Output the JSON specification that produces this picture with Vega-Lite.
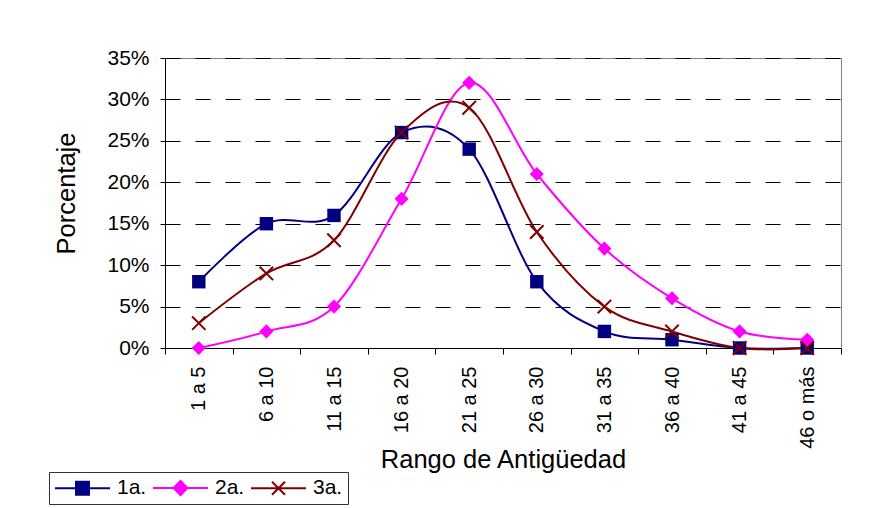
{
  "$schema": "https://vega.github.io/schema/vega-lite/v6.json",
  "autosize": {"type": "none"},
  "padding": {"left": 165, "top": 58, "right": 46, "bottom": 160},
  "width": 676,
  "height": 290,
  "background": "white",
  "config": {
    "font": "Liberation Sans",
    "view": {"stroke": "#808080", "strokeWidth": 1},
    "axis": {"labelColor": "black", "titleColor": "black", "domainColor": "black", "tickColor": "black", "labelFont": "Liberation Sans", "titleFont": "Liberation Sans", "titleFontWeight": "normal"}
  },
  "data": {"values": [
    {"rango": "1 a 5", "serie": "1a.", "valor": 0.08},
    {"rango": "6 a 10", "serie": "1a.", "valor": 0.15},
    {"rango": "11 a 15", "serie": "1a.", "valor": 0.16},
    {"rango": "16 a 20", "serie": "1a.", "valor": 0.26},
    {"rango": "21 a 25", "serie": "1a.", "valor": 0.24},
    {"rango": "26 a 30", "serie": "1a.", "valor": 0.08},
    {"rango": "31 a 35", "serie": "1a.", "valor": 0.02},
    {"rango": "36 a 40", "serie": "1a.", "valor": 0.01},
    {"rango": "41 a 45", "serie": "1a.", "valor": 0.0},
    {"rango": "46 o más", "serie": "1a.", "valor": 0.0},
    {"rango": "1 a 5", "serie": "2a.", "valor": 0.0},
    {"rango": "6 a 10", "serie": "2a.", "valor": 0.02},
    {"rango": "11 a 15", "serie": "2a.", "valor": 0.05},
    {"rango": "16 a 20", "serie": "2a.", "valor": 0.18},
    {"rango": "21 a 25", "serie": "2a.", "valor": 0.32},
    {"rango": "26 a 30", "serie": "2a.", "valor": 0.21},
    {"rango": "31 a 35", "serie": "2a.", "valor": 0.12},
    {"rango": "36 a 40", "serie": "2a.", "valor": 0.06},
    {"rango": "41 a 45", "serie": "2a.", "valor": 0.02},
    {"rango": "46 o más", "serie": "2a.", "valor": 0.01},
    {"rango": "1 a 5", "serie": "3a.", "valor": 0.03},
    {"rango": "6 a 10", "serie": "3a.", "valor": 0.09},
    {"rango": "11 a 15", "serie": "3a.", "valor": 0.13},
    {"rango": "16 a 20", "serie": "3a.", "valor": 0.26},
    {"rango": "21 a 25", "serie": "3a.", "valor": 0.29},
    {"rango": "26 a 30", "serie": "3a.", "valor": 0.14},
    {"rango": "31 a 35", "serie": "3a.", "valor": 0.05},
    {"rango": "36 a 40", "serie": "3a.", "valor": 0.02},
    {"rango": "41 a 45", "serie": "3a.", "valor": 0.0},
    {"rango": "46 o más", "serie": "3a.", "valor": 0.0}
  ]},
  "encoding": {
    "x": {
      "field": "rango", "type": "nominal",
      "sort": ["1 a 5", "6 a 10", "11 a 15", "16 a 20", "21 a 25", "26 a 30", "31 a 35", "36 a 40", "41 a 45", "46 o más"],
      "scale": {"type": "band", "paddingInner": 0, "paddingOuter": 0},
      "bandPosition": 0.5,
      "axis": {
        "title": "Rango de Antigüedad", "titleFontSize": 25.5, "titleBaseline": "alphabetic", "titleY": 119,
        "labelAngle": -90, "labelAlign": "right", "labelBaseline": "middle", "labelFontSize": 20,
        "labelPadding": 12, "tickSize": 6, "tickBand": "extent", "grid": false, "labelOverlap": false
      }
    },
    "y": {
      "field": "valor", "type": "quantitative",
      "scale": {"domain": [0, 0.35], "nice": false, "zero": true},
      "axis": {
        "title": "Porcentaje", "titleFontSize": 25.5, "titleBaseline": "alphabetic", "titleX": -91, "titleY": 135, "titleAngle": -90,
        "values": [0, 0.05, 0.1, 0.15, 0.2, 0.25, 0.3, 0.35], "format": ".0%",
        "labelFontSize": 21, "labelPadding": 11, "tickSize": 5,
        "grid": true, "gridColor": "black", "gridDash": [15, 15], "gridWidth": 1
      }
    },
    "color": {
      "field": "serie", "type": "nominal",
      "scale": {"domain": ["1a.", "2a.", "3a."], "range": ["#000080", "#FF00FF", "#800000"]},
      "legend": {
        "title": null, "orient": "none", "direction": "horizontal", "legendX": -116, "legendY": 414,
        "labelFontSize": 21, "labelColor": "black", "labelFont": "Liberation Sans", "labelOffset": 41, "columnPadding": 2,
        "symbolSize": 400, "symbolStrokeWidth": 2, "padding": 5, "strokeColor": "#333", "fillColor": "white",
        "symbolType": "M-1,0H4.5",
        "encode": {
          "symbols": {
            "update": {
              "shape": {"signal": "datum.value == '1a.' ? 'M-1,0H4.5M1.1,-0.65H2.4V0.65H1.1Z' : datum.value == '2a.' ? 'M-1,0H4.5M1.75,-0.7L2.45,0L1.75,0.7L1.05,0Z' : 'M-1,0H4.5M1.1,-0.65L2.4,0.65M1.1,0.65L2.4,-0.65'"},
              "fill": {"signal": "datum.value == '3a.' ? 'transparent' : scale('color', datum.value)"},
              "stroke": {"signal": "scale('color', datum.value)"},
              "strokeWidth": {"value": 2},
              "fillOpacity": {"value": 1}
            }
          }
        }
      }
    }
  },
  "layer": [
    {
      "mark": {"type": "line", "interpolate": "cardinal", "tension": 0, "strokeWidth": 2}
    },
    {
      "transform": [{"filter": "datum.serie == '1a.'"}],
      "mark": {"type": "point", "shape": "square", "filled": true, "size": 180, "opacity": 1}
    },
    {
      "transform": [{"filter": "datum.serie == '2a.'"}],
      "mark": {"type": "point", "shape": "diamond", "filled": true, "size": 200, "opacity": 1}
    },
    {
      "transform": [{"filter": "datum.serie == '3a.'"}],
      "mark": {"type": "point", "shape": "M-1,-1L1,1M-1,1L1,-1", "filled": false, "size": 180, "opacity": 1, "strokeWidth": 2}
    }
  ]
}
